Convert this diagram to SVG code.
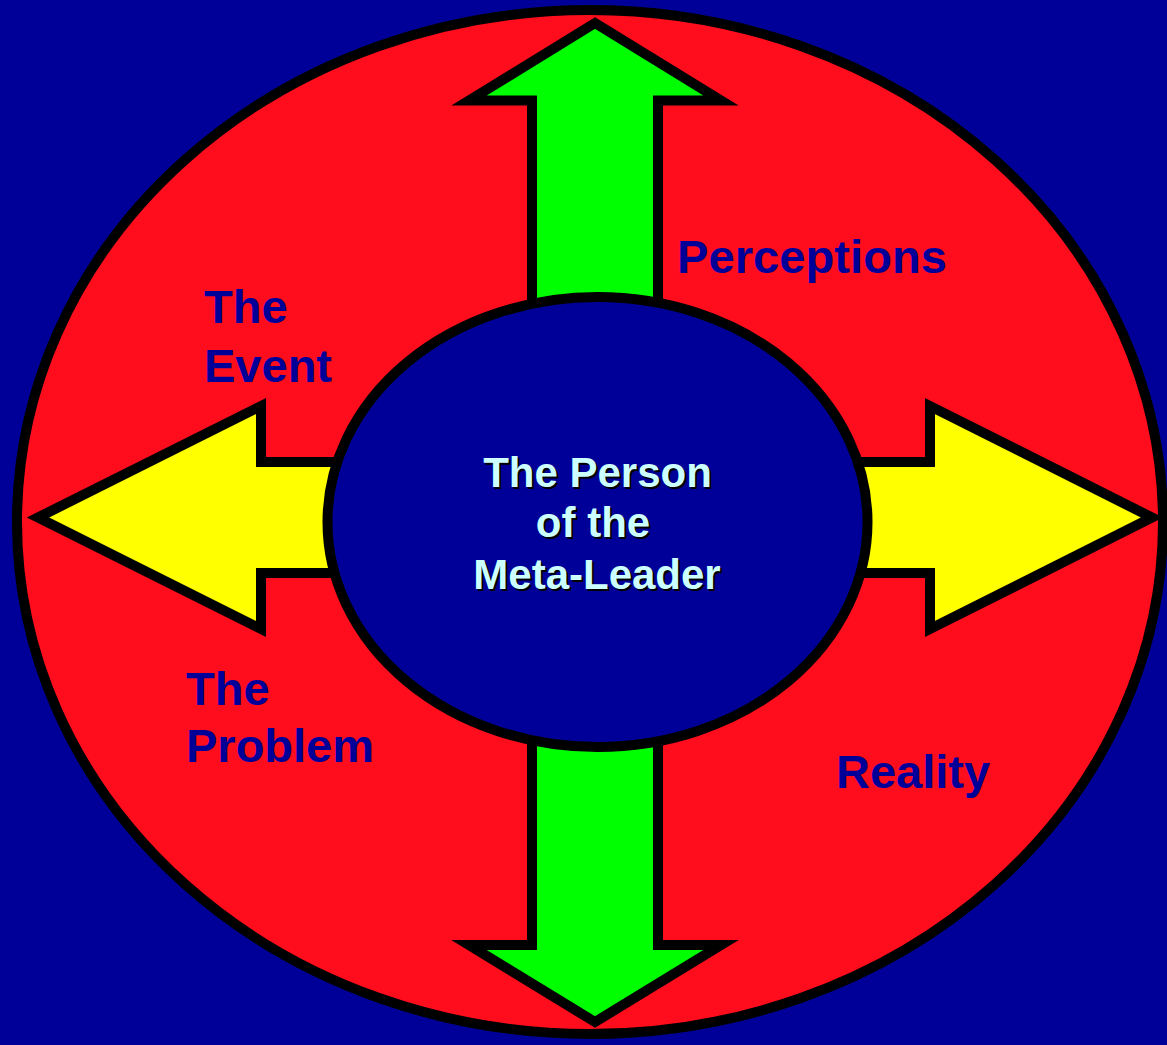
<svg xmlns="http://www.w3.org/2000/svg" width="1167" height="1045" viewBox="0 0 1167 1045">
  <style>
    .ring { fill: #ff0d1d; stroke: #000000; stroke-width: 10; }
    .hub { fill: #000099; stroke: #000000; stroke-width: 10; }
    .vArrow { fill: #00ff00; stroke: #000000; stroke-width: 10; stroke-linejoin: miter; stroke-miterlimit: 10; }
    .hArrow { fill: #ffff00; stroke: #000000; stroke-width: 10; stroke-linejoin: miter; stroke-miterlimit: 10; }
    .label { font-family: "Liberation Sans", Arial, sans-serif; font-weight: bold; font-size: 47px; fill: #000099; }
    .center { font-family: "Liberation Sans", Arial, sans-serif; font-weight: bold; font-size: 42px; text-anchor: middle; }
    .shadow { fill: #000000; }
    .face { fill: #ccffff; }
  </style>
  <rect x="0" y="0" width="1167" height="1045" fill="#000099"/>
  <g id="outer-ring">
    <ellipse class="ring" cx="590" cy="522" rx="573" ry="512"/>
  </g>
  <g id="connectors">
    <polygon id="arrow-up" class="vArrow" points="595,23 721,100.5 658,100.5 658,420 532,420 532,100.5 469,100.5"/>
    <polygon id="arrow-down" class="vArrow" points="595,1022 721,945 658,945 658,620 532,620 532,945 469,945"/>
    <polygon id="arrow-left" class="hArrow" points="38,517.5 261,406 261,462 450,462 450,573 261,573 261,629"/>
    <polygon id="arrow-right" class="hArrow" points="1152,517.5 930,406 930,462 740,462 740,573 930,573 930,629"/>
  </g>
  <g id="hub">
    <ellipse class="hub" cx="597.5" cy="522" rx="270" ry="225"/>
    <text class="center shadow" x="599.5" y="489">The Person</text>
    <text class="center shadow" x="595" y="539">of the</text>
    <text class="center shadow" x="599" y="591">Meta-Leader</text>
    <text class="center face" x="597.5" y="487">The Person</text>
    <text class="center face" x="593" y="537">of the</text>
    <text class="center face" x="597" y="589">Meta-Leader</text>
  </g>
  <g id="label-perceptions">
    <text class="label" x="677" y="273" textLength="270" lengthAdjust="spacing">Perceptions</text>
  </g>
  <g id="label-event">
    <text class="label" x="204" y="323">The</text>
    <text class="label" x="204" y="382">Event</text>
  </g>
  <g id="label-problem">
    <text class="label" x="186" y="705">The</text>
    <text class="label" x="186" y="762">Problem</text>
  </g>
  <g id="label-reality">
    <text class="label" x="836" y="788">Reality</text>
  </g>
</svg>
